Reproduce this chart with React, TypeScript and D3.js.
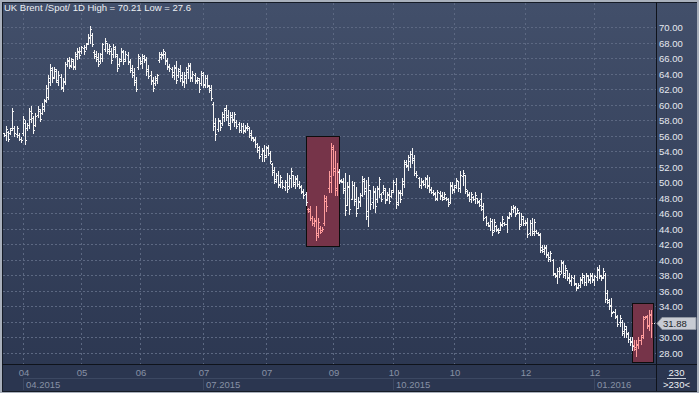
import React from 'react'
import * as d3 from 'd3'

// daily bars
const highs = [
  56.4, 57.2, 56.6, 57.0, 59.6, 57.2, 57.3, 56.3, 55.9, 58.5,
  58.0, 57.7, 59.6, 59.8, 58.6, 58.9, 59.8, 59.5, 60.2, 60.8,
  62.6, 63.8, 65.3, 64.9, 64.9, 64.6, 64.4, 64.0, 63.5, 65.5,
  66.1, 66.2, 66.1, 65.9, 66.8, 67.3, 67.4, 67.6, 67.7, 68.0,
  69.1, 70.21, 69.3, 67.1, 66.9, 66.7, 66.7, 68.0, 68.6, 68.0,
  67.9, 67.3, 67.9, 67.6, 66.6, 66.0, 67.3, 67.1, 66.9, 66.8,
  65.9, 65.1, 64.7, 63.6, 66.6, 66.2, 66.6, 66.4, 66.2, 65.1,
  64.4, 63.6, 63.7, 64.0, 66.8, 66.8, 67.2, 66.8, 66.0, 65.2,
  64.9, 65.1, 65.6, 64.7, 65.1, 64.2, 64.2, 64.9, 65.4, 65.4,
  64.3, 64.1, 63.6, 63.5, 64.4, 64.2, 63.8, 63.8, 62.6, 62.5,
  60.4, 58.3, 58.3, 58.0, 59.1, 59.6, 60.0, 59.3, 59.1, 59.1,
  59.1, 58.0, 57.8, 57.6, 57.6, 57.4, 57.6, 57.1, 56.7, 55.9,
  55.9, 55.1, 54.7, 54.4, 54.8, 54.7, 54.8, 54.0, 52.5, 52.0,
  51.2, 51.4, 51.0, 50.3, 50.3, 51.2, 51.0, 51.8, 51.0, 50.8,
  51.0, 50.2, 49.6, 49.1, 48.8, 46.7, 46.9, 45.6, 45.4, 46.9,
  45.4, 44.3, 44.2, 48.4, 48.2, 51.4, 55.1, 54.8, 54.0, 52.5,
  51.7, 50.4, 50.5, 51.2, 50.0, 50.9, 50.2, 50.0, 49.4, 48.1,
  48.6, 50.8, 50.6, 50.3, 50.7, 49.0, 49.5, 49.2, 49.5, 50.7,
  48.6, 49.6, 49.2, 48.8, 49.2, 49.0, 50.3, 50.6, 49.0, 49.0,
  50.5, 52.9, 52.9, 53.5, 54.0, 54.4, 53.5, 51.4, 50.7, 50.5,
  50.3, 50.7, 50.9, 50.7, 49.4, 49.0, 48.8, 49.0, 48.9, 48.8,
  48.8, 48.1, 48.0, 50.0, 50.0, 49.7, 50.6, 50.2, 51.4, 51.6,
  51.0, 49.0, 48.8, 48.8, 48.2, 48.8, 48.0, 47.7, 48.6, 47.3,
  45.6, 44.9, 45.4, 45.2, 45.2, 44.5, 44.1, 44.9, 45.6, 44.9,
  45.6, 46.2, 46.9, 47.1, 46.9, 46.7, 46.2, 46.0, 45.6, 45.1,
  45.4, 45.1, 45.4, 45.3, 43.8, 43.6, 43.4, 41.9, 41.9, 41.9,
  41.0, 41.2, 40.1, 38.3, 38.9, 39.1, 40.0, 39.8, 39.3, 38.7,
  38.3, 38.0, 38.0, 37.0, 37.0, 37.8, 38.3, 38.0, 38.3, 38.0,
  38.3, 38.3, 38.0, 39.1, 39.3, 38.0, 38.9, 38.3, 36.1, 35.0,
  35.1, 33.4, 33.7, 32.9, 32.9, 32.2, 31.8, 31.4, 30.7, 30.1,
  30.1, 29.6, 29.6, 30.1, 30.3, 32.7, 32.7, 32.9, 33.5, 33.5,
]
const lows = [
  56.0, 55.5, 55.3, 56.2, 56.8, 56.0, 55.8, 55.4, 55.2, 56.1,
  55.0, 56.8, 57.0, 57.8, 56.4, 57.2, 58.4, 57.9, 58.8, 59.2,
  60.4, 60.8, 62.5, 63.0, 63.4, 62.9, 62.5, 62.0, 61.8, 62.7,
  65.0, 64.7, 64.9, 64.6, 64.6, 65.9, 66.1, 66.7, 66.6, 67.2,
  67.8, 68.0, 67.6, 66.0, 65.7, 65.0, 65.4, 65.6, 66.9, 66.7,
  66.5, 65.4, 66.2, 66.2, 64.3, 65.0, 65.6, 65.3, 65.6, 65.2,
  64.2, 63.6, 62.5, 61.8, 64.6, 65.3, 64.8, 65.5, 63.9, 63.4,
  62.7, 61.8, 62.6, 62.8, 65.5, 65.9, 66.0, 65.3, 64.6, 64.4,
  63.6, 63.3, 62.8, 63.6, 63.1, 62.6, 62.3, 62.8, 63.5, 63.1,
  63.1, 62.8, 62.8, 61.7, 62.5, 62.3, 62.3, 62.3, 61.7, 60.6,
  56.7, 55.5, 56.6, 56.7, 57.4, 57.9, 58.0, 57.4, 56.9, 57.8,
  57.2, 57.0, 56.5, 56.5, 56.3, 56.5, 56.7, 55.8, 55.5, 55.3,
  54.6, 53.9, 53.1, 52.7, 52.8, 53.3, 53.5, 52.5, 51.0, 49.9,
  50.1, 49.4, 49.4, 49.2, 49.0, 48.8, 49.3, 49.4, 49.5, 49.3,
  49.5, 49.3, 48.6, 48.0, 47.1, 46.2, 45.1, 44.5, 44.3, 42.6,
  43.0, 43.4, 43.7, 44.5, 46.3, 48.8, 48.8, 50.9, 48.4, 48.4,
  49.9, 50.0, 48.6, 45.8, 47.1, 45.9, 47.9, 47.1, 45.6, 46.7,
  47.0, 48.2, 48.5, 45.2, 44.3, 46.6, 46.7, 46.2, 47.5, 48.1,
  47.6, 48.5, 47.3, 47.7, 47.3, 48.1, 48.8, 46.7, 47.1, 47.5,
  48.4, 49.4, 52.0, 51.6, 52.0, 52.5, 50.9, 50.7, 49.4, 49.2,
  49.6, 49.4, 49.2, 48.8, 48.6, 48.4, 47.7, 47.7, 47.8, 47.7,
  47.9, 47.7, 46.9, 47.3, 48.6, 48.8, 49.3, 48.9, 48.8, 49.6,
  48.6, 48.2, 47.6, 47.4, 47.7, 47.3, 47.3, 46.9, 46.4, 45.1,
  44.5, 44.3, 43.9, 43.2, 43.7, 43.7, 43.4, 43.8, 44.3, 44.5,
  43.6, 45.4, 45.6, 46.2, 45.6, 46.0, 44.0, 44.5, 44.5, 44.5,
  43.0, 43.2, 43.2, 43.2, 43.4, 43.2, 41.0, 41.0, 40.8, 40.4,
  39.8, 39.8, 38.0, 37.8, 37.0, 37.8, 38.3, 37.8, 37.6, 37.4,
  37.0, 36.8, 36.8, 36.1, 36.3, 36.5, 37.0, 36.8, 36.8, 37.2,
  37.0, 37.2, 36.8, 37.4, 37.6, 37.4, 37.6, 34.6, 34.4, 33.7,
  32.7, 33.2, 32.5, 31.4, 31.4, 30.3, 30.1, 30.1, 29.4, 29.0,
  28.4, 28.4, 27.6, 28.6, 29.2, 29.9, 32.5, 31.2, 30.9, 30.1,
]
const opens = [
  56.3, 56.1, 56.5, 56.3, 57.0, 57.0, 56.2, 56.1, 55.6, 56.3,
  57.6, 57.0, 57.4, 58.2, 58.3, 57.4, 58.7, 59.2, 59.0, 59.5,
  60.6, 61.0, 63.0, 64.5, 63.6, 64.3, 63.0, 63.6, 62.2, 63.0,
  65.2, 65.6, 65.1, 65.7, 65.0, 66.3, 66.8, 66.9, 67.3, 67.4,
  68.0, 68.6, 69.0, 66.8, 66.5, 66.2, 65.6, 66.0, 67.2, 68.0,
  67.2, 67.0, 66.5, 67.2, 66.3, 65.3, 65.9, 66.8, 65.9, 66.4,
  65.6, 64.8, 64.2, 63.2, 64.9, 66.0, 65.4, 66.1, 65.9, 64.6,
  63.9, 63.2, 62.8, 63.2, 65.8, 66.2, 66.4, 66.5, 65.8, 65.0,
  64.6, 64.2, 64.9, 63.9, 64.6, 63.8, 63.1, 63.4, 64.2, 65.0,
  63.6, 63.9, 63.2, 63.2, 62.8, 63.9, 62.7, 63.5, 62.4, 62.2,
  60.1, 57.6, 56.9, 57.9, 57.6, 58.4, 59.6, 58.7, 57.4, 58.4,
  58.0, 57.8, 57.5, 56.8, 57.2, 56.7, 57.0, 57.0, 56.4, 55.7,
  55.6, 54.9, 54.5, 53.6, 54.2, 53.5, 54.5, 53.8, 52.3, 51.6,
  50.4, 51.0, 49.6, 50.1, 49.4, 50.0, 49.5, 50.6, 51.3, 50.0,
  50.4, 49.8, 49.4, 48.9, 48.5, 46.5, 46.6, 45.4, 44.8, 45.1,
  43.5, 44.1, 43.8, 44.7, 47.6, 49.2, 50.0, 54.3, 51.8, 49.2,
  51.3, 50.3, 50.2, 49.2, 46.9, 49.4, 46.9, 49.6, 47.9, 46.6,
  47.4, 48.4, 50.2, 49.2, 46.3, 49.3, 47.4, 48.8, 47.8, 49.2,
  48.5, 48.7, 49.0, 47.9, 48.4, 48.2, 49.0, 49.8, 47.4, 48.6,
  48.6, 49.8, 52.4, 52.1, 52.8, 53.6, 53.1, 51.2, 50.5, 49.7,
  50.1, 49.8, 50.5, 49.6, 49.1, 48.8, 48.5, 48.0, 48.6, 48.3,
  48.1, 48.0, 47.8, 47.5, 49.5, 49.0, 49.6, 50.2, 49.2, 50.8,
  51.0, 48.9, 48.5, 47.9, 48.1, 47.8, 48.0, 47.6, 47.8, 46.9,
  45.5, 44.8, 44.4, 45.0, 43.9, 44.3, 44.0, 43.9, 44.5, 44.8,
  44.6, 45.5, 45.9, 46.5, 46.7, 46.0, 46.1, 44.6, 45.3, 44.8,
  44.9, 43.5, 44.7, 43.7, 43.7, 43.5, 43.2, 41.6, 41.4, 41.5,
  40.8, 40.3, 40.0, 38.2, 38.0, 38.5, 38.5, 39.6, 38.3, 38.9,
  37.8, 37.3, 37.6, 36.9, 36.5, 36.8, 37.4, 37.8, 37.2, 37.9,
  37.5, 37.9, 37.4, 37.8, 38.7, 37.9, 37.8, 38.1, 35.7, 34.8,
  34.2, 33.3, 33.3, 32.6, 32.0, 32.0, 30.8, 31.1, 30.5, 29.8,
  29.5, 29.0, 28.5, 29.0, 29.6, 30.3, 32.6, 32.7, 31.5, 32.9,
]
const closes = [
  56.1, 56.9, 55.6, 56.8, 59.2, 56.4, 57.0, 55.6, 55.5, 58.2,
  55.4, 57.4, 59.2, 59.0, 56.8, 58.6, 59.5, 58.2, 59.8, 60.5,
  62.2, 63.4, 64.8, 63.4, 64.6, 63.2, 63.9, 62.3, 63.1, 65.2,
  65.8, 65.0, 65.9, 64.9, 66.5, 67.0, 66.4, 67.4, 66.9, 67.8,
  68.8, 69.8, 67.8, 66.3, 65.9, 65.3, 66.5, 67.8, 68.2, 67.0,
  67.6, 65.8, 67.5, 66.6, 64.8, 65.7, 67.0, 65.6, 66.5, 65.5,
  64.5, 63.9, 62.9, 62.1, 66.3, 65.6, 66.3, 65.8, 64.3, 63.7,
  63.1, 62.2, 63.5, 63.8, 66.5, 66.5, 66.9, 65.6, 64.9, 64.7,
  63.9, 64.8, 63.2, 64.4, 63.4, 63.0, 63.9, 64.6, 65.1, 63.4,
  64.0, 63.1, 63.4, 62.0, 64.1, 62.6, 63.5, 62.6, 61.9, 60.9,
  57.2, 56.2, 58.0, 57.1, 58.8, 59.3, 58.4, 57.7, 58.7, 58.2,
  58.8, 57.3, 56.8, 57.3, 56.6, 57.1, 57.3, 56.1, 55.8, 55.5,
  54.9, 54.2, 53.4, 54.1, 53.3, 54.4, 53.8, 52.8, 51.3, 50.2,
  50.9, 49.8, 50.7, 49.5, 50.0, 49.1, 50.6, 51.4, 49.8, 50.5,
  49.8, 49.5, 48.8, 48.3, 47.4, 46.3, 45.4, 44.7, 45.0, 43.2,
  44.9, 43.6, 44.0, 48.0, 47.0, 50.8, 54.5, 51.4, 49.0, 51.5,
  50.2, 50.1, 49.0, 46.4, 49.5, 46.5, 49.7, 47.6, 46.1, 47.6,
  48.3, 50.4, 48.9, 45.7, 49.7, 47.2, 48.9, 46.9, 49.1, 50.4,
  47.9, 49.3, 47.7, 48.5, 47.6, 48.8, 50.0, 47.2, 48.7, 47.8,
  50.2, 52.6, 52.2, 53.2, 53.7, 52.9, 51.2, 50.9, 49.7, 50.2,
  49.8, 50.4, 49.5, 49.0, 48.8, 48.6, 47.9, 48.7, 48.2, 47.9,
  48.5, 47.8, 47.2, 49.6, 49.1, 49.4, 50.3, 49.3, 51.0, 51.2,
  49.1, 48.4, 47.8, 48.5, 47.8, 48.4, 47.5, 47.1, 46.6, 45.4,
  44.8, 44.5, 45.0, 43.6, 44.9, 43.9, 43.6, 44.6, 45.3, 44.6,
  45.4, 46.0, 46.6, 46.8, 45.9, 46.4, 44.3, 45.7, 44.8, 44.7,
  43.3, 44.8, 43.5, 44.9, 43.5, 43.3, 41.3, 41.2, 41.7, 40.6,
  40.1, 40.9, 38.3, 37.9, 38.6, 38.2, 39.7, 38.1, 39.0, 37.7,
  37.4, 37.8, 37.0, 36.3, 36.8, 37.5, 38.0, 37.1, 38.0, 37.4,
  38.1, 37.5, 37.9, 38.8, 38.0, 37.6, 38.5, 35.0, 34.6, 34.0,
  33.1, 33.3, 32.8, 31.7, 32.5, 30.6, 31.4, 30.4, 29.8, 29.4,
  28.9, 28.7, 29.2, 29.7, 30.1, 32.4, 32.6, 31.6, 33.0, 31.88,
]

const xTickIdx = [9, 37, 65, 95, 125, 157, 186, 215, 249, 282]
const xTickLabels = ['04', '05', '06', '07', '07', '09', '10', '10', '12', '12']
const periodIdx = [9, 95, 186, 282]
const periodLabels = ['04.2015', '07.2015', '10.2015', '01.2016']
const yTicks = [28, 30, 32, 34, 36, 38, 40, 42, 44, 46, 48, 50, 52, 54, 56, 58, 60, 62, 64, 66, 68, 70]
// bar index ranges framed in red
const highlights = [
  [145, 159],
  [301, 309],
]
const title = 'UK Brent /Spot/ 1D High = 70.21 Low = 27.6'
const lastPrice = 31.88
const barInfo = '230'

const W = 699
const H = 393
const plotR = 656
const plotB = 364
const font = 'Liberation Sans, Arial, sans-serif'

export default function App() {
  const x = d3.scaleLinear().domain([0, highs.length - 1]).range([4, 651])
  const y = d3.scaleLinear().domain([28, 70]).range([352.8, 27.3])
  const px = (i: number) => Math.round(x(i))
  const py = (v: number) => Math.round(y(v))

  const inBox = (i: number) => highlights.some(([a, b]) => i >= a && i <= b)
  const lastY = py(lastPrice)

  return (
    <div style={{ position: 'absolute', left: 0, top: 0 }}>
      <svg width={W} height={H} style={{ display: 'block' }} shapeRendering="crispEdges">
        <defs>
          <linearGradient id="bg" x1="0" y1="0" x2="0" y2="1">
            <stop offset="0%" stopColor="#424f6a" />
            <stop offset="100%" stopColor="#2b3650" />
          </linearGradient>
        </defs>

        {/* frame */}
        <rect x={0} y={0} width={W} height={H} fill="#a9b0bc" />
        <rect x={2} y={2} width={W - 4} height={H - 3} fill="#151b26" />
        <rect x={3} y={3} width={W - 5} height={H - 5} fill="url(#bg)" />

        {/* horizontal grid */}
        {yTicks.map((t) => (
          <line
            key={'g' + t}
            x1={3}
            x2={plotR}
            y1={py(t) + 0.5}
            y2={py(t) + 0.5}
            stroke="#5c6882"
            strokeDasharray="2,2"
          />
        ))}
        {/* vertical grid */}
        {xTickIdx.map((i) => (
          <line
            key={'v' + i}
            x1={px(i) + 0.5}
            x2={px(i) + 0.5}
            y1={3}
            y2={plotB}
            stroke="#5c6882"
            strokeDasharray="2,3"
          />
        ))}

        {/* highlight boxes */}
        {highlights.map(([a, b], k) => {
          const hi = d3.max(highs.slice(a, b + 1)) as number
          const lo = d3.min(lows.slice(a, b + 1)) as number
          const x0 = px(a) - 2
          const x1 = px(b) + 2
          const y0 = py(hi) - 7
          const y1 = py(lo) + 6
          return (
            <rect
              key={'h' + k}
              x={x0 + 0.5}
              y={y0 + 0.5}
              width={x1 - x0}
              height={y1 - y0}
              fill="#763449"
              stroke="#0d0d0d"
            />
          )
        })}

        {/* bars */}
        {highs.map((h, i) => {
          const l = lows[i]
          const o = Math.max(l, Math.min(h, opens[i]))
          const c = Math.max(l, Math.min(h, closes[i]))
          const color = inBox(i) ? '#ff9c9c' : '#f4f4f4'
          const xx = px(i)
          const yh = py(h)
          const yl = py(l)
          return (
            <g key={'b' + i} fill={color}>
              <rect x={xx} y={yh} width={1} height={Math.max(1, yl - yh + 1)} />
              <rect x={xx - 1} y={py(o)} width={1} height={1} />
              <rect x={xx + 1} y={py(c)} width={1} height={1} />
            </g>
          )
        })}
        <rect x={654} y={lastY} width={1} height={1} fill="#f4f4f4" />

        {/* bottom axis band */}
        <rect x={3} y={plotB + 1} width={W - 5} height={H - plotB - 3} fill="#2b3650" />
        <line x1={2} x2={W - 2} y1={plotB + 0.5} y2={plotB + 0.5} stroke="#0f131b" />
        <line x1={px(periodIdx[0])} x2={plotR} y1={378.5} y2={378.5} stroke="#3c4862" />
        {periodIdx.map((i, k) => (
          <g key={'p' + i}>
            <line x1={px(i) + 0.5} x2={px(i) + 0.5} y1={378} y2={390} stroke="#3c4862" />
            <text x={px(i) + 3} y={388} fontFamily={font} fontSize={9.5} fill="#8791a5">
              {periodLabels[k]}
            </text>
          </g>
        ))}
        {xTickIdx.map((i, k) => (
          <text
            key={'t' + i}
            x={px(i) + 1}
            y={376}
            textAnchor="middle"
            fontFamily={font}
            fontSize={9.5}
            fill="#8791a5"
          >
            {xTickLabels[k]}
          </text>
        ))}

        {/* right axis; the label under the price marker is hidden */}
        <line x1={plotR + 0.5} x2={plotR + 0.5} y1={2} y2={H - 2} stroke="#0f131b" />
        {yTicks
          .filter((t) => Math.abs(py(t) - lastY) > 9)
          .map((t) => (
            <text key={'y' + t} x={659} y={py(t) + 3.5} fontFamily={font} fontSize={9.5} fill="#e6e9ef">
              {t.toFixed(2)}
            </text>
          ))}

        {/* last price marker */}
        <polygon
          points={`657,${lastY + 0.5} 662,${lastY - 5.5} 696,${lastY - 5.5} 696,${lastY + 6.5} 662,${lastY + 6.5}`}
          fill="#c7cbd3"
          stroke="#8e95a1"
          shapeRendering="auto"
        />
        <text x={663} y={lastY + 4} fontFamily={font} fontSize={9.5} fill="#1b1f27">
          {lastPrice.toFixed(2)}
        </text>

        {/* bar count cell */}
        <text x={676.5} y={375.5} textAnchor="middle" fontFamily={font} fontSize={9.5} fill="#eef0f4">
          {barInfo}
        </text>
        <line x1={667} x2={686} y1={378.5} y2={378.5} stroke="#c9cdd5" />
        <text x={676.5} y={388} textAnchor="middle" fontFamily={font} fontSize={9.5} fill="#eef0f4">
          {'>' + barInfo + '<'}
        </text>

        {/* title */}
        <text x={4} y={11} fontFamily={font} fontSize={9.5} fill="#eceef3">
          {title}
        </text>
      </svg>
    </div>
  )
}
